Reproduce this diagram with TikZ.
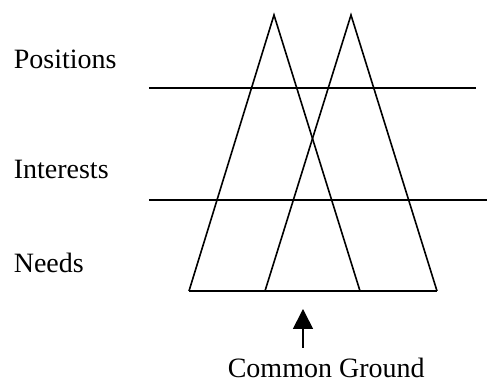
\documentclass[tikz,border=0pt]{standalone}
\usepackage{fontspec}
\setmainfont{Liberation Serif}
\usetikzlibrary{arrows.meta}
\begin{document}
\begin{tikzpicture}[x=0.5pt, y=-0.5pt, line width=0.8pt,
  lbl/.style={anchor=base west, inner sep=0pt, font=\fontsize{14}{16}\selectfont}]
  % khung
  \useasboundingbox (0,0) rectangle (489,383);
  % cac muc
  \node[lbl] (pos) at (13,69) {Positions};
  \node[lbl] (int) at (13,179) {Interests};
  \node[lbl] (need) at (13,273) {Needs};
  \draw (149,88) -- (476,88);
  \draw (149,200) -- (487,200);
  % hai tam giac
  \draw (189,291) -- (274,15) -- (360,291);
  \draw (265,291) -- (351,15) -- (437,291);
  \draw (189,291) -- (437,291);
  % common ground
  \node[lbl] (cg) at (227,378) {Common Ground};
  \coordinate (tail) at (303,348);
  \coordinate (tip) at (303,309);
  \draw[-{Triangle[length=10pt,width=10pt]}] (tail) -- (tip);
\end{tikzpicture}
\end{document}
